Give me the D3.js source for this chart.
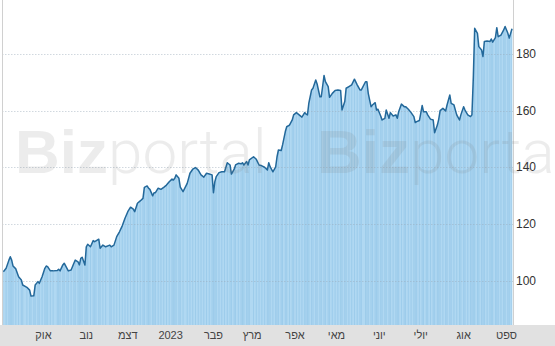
<!DOCTYPE html>
<html lang="he">
<head>
<meta charset="UTF-8">
<script src="https://d3js.org/d3.v7.min.js"></script>
<style>
  body { margin: 0; background: #fff; }
  svg { display: block; }
</style>
</head>
<body>
<div id="chart"></div>
<script>
// daily closes, Sep 2022 - Sep 2023
const dates = [
  "2022-09-02","2022-09-04","2022-09-06","2022-09-07","2022-09-08","2022-09-09","2022-09-11","2022-09-13","2022-09-15","2022-09-16",
  "2022-09-19","2022-09-21","2022-09-22","2022-09-24","2022-09-25","2022-09-27","2022-09-28","2022-09-30","2022-10-02","2022-10-03",
  "2022-10-04","2022-10-06","2022-10-08","2022-10-11","2022-10-12","2022-10-13","2022-10-15","2022-10-16","2022-10-18","2022-10-19",
  "2022-10-21","2022-10-23","2022-10-24","2022-10-26","2022-10-27","2022-10-28","2022-10-29","2022-10-31","2022-11-01","2022-11-02",
  "2022-11-04","2022-11-06","2022-11-07","2022-11-08","2022-11-10","2022-11-11","2022-11-13","2022-11-15","2022-11-18","2022-11-19",
  "2022-11-21","2022-11-23","2022-11-25","2022-11-27","2022-11-29","2022-12-01","2022-12-03","2022-12-05","2022-12-06","2022-12-08",
  "2022-12-10","2022-12-12","2022-12-13","2022-12-15","2022-12-16","2022-12-17","2022-12-19","2022-12-20","2022-12-21","2022-12-23",
  "2022-12-25","2022-12-27","2022-12-29","2022-12-31","2023-01-02","2023-01-03","2023-01-04","2023-01-05","2023-01-07","2023-01-08",
  "2023-01-10","2023-01-13","2023-01-15","2023-01-17","2023-01-19","2023-01-21","2023-01-23","2023-01-25","2023-01-27","2023-01-29",
  "2023-01-31","2023-02-01","2023-02-02","2023-02-03","2023-02-05","2023-02-07","2023-02-09","2023-02-11","2023-02-13","2023-02-14",
  "2023-02-16","2023-02-17","2023-02-19","2023-02-21","2023-02-22","2023-02-23","2023-02-25","2023-02-26","2023-02-27","2023-03-02",
  "2023-03-04","2023-03-06","2023-03-08","2023-03-10","2023-03-12","2023-03-13","2023-03-14","2023-03-16","2023-03-18","2023-03-19",
  "2023-03-20","2023-03-22","2023-03-23","2023-03-25","2023-03-26","2023-03-28","2023-03-30","2023-03-31","2023-04-02","2023-04-04",
  "2023-04-06","2023-04-08","2023-04-09","2023-04-10","2023-04-11","2023-04-13","2023-04-14","2023-04-16","2023-04-17","2023-04-19",
  "2023-04-20","2023-04-22","2023-04-23","2023-04-25","2023-04-26","2023-04-28","2023-04-30","2023-05-02","2023-05-04","2023-05-05",
  "2023-05-07","2023-05-08","2023-05-10","2023-05-12","2023-05-14","2023-05-16","2023-05-18","2023-05-19","2023-05-22","2023-05-23",
  "2023-05-24","2023-05-26","2023-05-27","2023-05-29","2023-05-30","2023-05-31","2023-06-02","2023-06-03","2023-06-05","2023-06-06",
  "2023-06-08","2023-06-09","2023-06-11","2023-06-13","2023-06-14","2023-06-15","2023-06-17","2023-06-19","2023-06-20","2023-06-22",
  "2023-06-24","2023-06-26","2023-06-27","2023-06-28","2023-06-30","2023-07-02","2023-07-03","2023-07-05","2023-07-06","2023-07-08",
  "2023-07-10","2023-07-11","2023-07-13","2023-07-14","2023-07-15","2023-07-17","2023-07-19","2023-07-20","2023-07-22","2023-07-23",
  "2023-07-25","2023-07-27","2023-07-29","2023-07-30","2023-08-01","2023-08-02","2023-08-04","2023-08-06","2023-08-07","2023-08-08",
  "2023-08-09","2023-08-11","2023-08-12","2023-08-14","2023-08-15","2023-08-16","2023-08-18","2023-08-20","2023-08-21","2023-08-22",
  "2023-08-24","2023-08-25","2023-08-26","2023-08-28","2023-08-30","2023-08-31","2023-09-02","2023-09-03","2023-09-05"
];
const closes = [
  103.1,104.3,107.2,108.4,107.2,105.1,104.1,101.3,100.2,98.4,
  97.6,96.6,94.5,94.6,98.4,99.6,99.0,101.3,104.3,105.1,
  104.9,103.4,103.4,103.5,104.0,103.4,105.5,106.1,104.3,103.4,
  103.7,106.1,107.2,106.6,105.5,107.8,108.2,105.5,111.9,112.8,
  111.9,114.1,113.7,114.0,114.6,111.4,112.5,111.9,112.5,111.9,
  112.5,115.5,117.2,119.3,122.0,124.3,125.9,125.2,124.3,127.3,
  128.1,129.0,132.9,133.4,132.6,132.2,129.9,131.0,131.0,132.6,
  132.2,132.9,133.7,134.9,135.8,135.5,136.1,137.3,136.1,133.0,
  131.4,134.3,137.9,139.3,139.9,139.0,137.3,136.5,137.9,137.6,
  137.3,131.0,134.9,136.7,138.1,138.4,138.4,141.6,140.8,137.6,
  139.3,140.8,141.4,141.2,141.6,140.8,142.0,140.8,142.6,143.7,
  142.8,140.8,140.5,140.0,139.0,141.6,140.2,138.4,140.1,143.7,
  146.1,145.9,147.9,152.6,154.3,154.9,156.7,158.5,159.3,158.5,
  157.7,159.3,158.8,158.5,162.6,167.3,167.9,170.8,169.4,164.9,
  164.9,172.4,170.2,168.5,164.7,166.1,167.1,167.3,167.1,160.2,
  163.2,167.9,168.5,169.1,171.1,169.1,167.3,167.3,170.2,170.2,
  166.1,161.4,162.0,162.8,160.2,160.5,158.1,156.7,157.3,160.2,
  157.3,159.3,158.1,158.5,157.3,159.6,162.3,161.4,161.4,160.5,
  159.3,157.9,155.8,156.1,156.5,161.8,159.6,159.6,158.5,157.0,
  156.7,152.2,154.9,157.0,160.0,160.8,159.9,162.0,165.5,162.6,
  162.0,158.5,156.7,158.5,161.4,160.2,158.5,157.9,158.5,171.4,
  189.1,187.3,182.6,181.4,179.1,184.4,184.6,184.4,185.3,184.2,
  185.8,189.3,186.1,186.7,188.5,189.7,187.3,185.6,188.9
];
const yTicks = [100, 120, 140, 160, 180];
const monthTicks = ["2022-10-01","2022-11-01","2022-12-01","2023-01-01","2023-02-01","2023-03-01",
                    "2023-04-01","2023-05-01","2023-06-01","2023-07-01","2023-08-01","2023-09-01"];
const monthLabels = ["אוק","נוב","דצמ","2023","פבר","מרץ","אפר","מאי","יוני","יולי","אוג","ספט"];

const W = 555, H = 346;
const plot = {left: 2, right: 513, top: 0, bottom: 325};
const parse = d3.timeParse("%Y-%m-%d");
const data = dates.map((d, i) => ({date: parse(d), v: closes[i]}));

const svg = d3.select("#chart").append("svg").attr("width", W).attr("height", H);

const x = d3.scaleTime()
  .domain([parse("2022-09-01"), parse("2023-09-05")])
  .range([plot.left, plot.right - 1]);
const y = d3.scaleLinear().domain([100, 180]).range([280.5, 54]);

// bottom axis band
svg.append("rect")
  .attr("x", 0).attr("y", plot.bottom)
  .attr("width", W).attr("height", H - plot.bottom)
  .attr("fill", "#e1e1e1");

// area + daily stripes
svg.append("path").datum(data)
  .attr("fill", "#b0d8f2")
  .attr("d", d3.area().x(d => x(d.date)).y0(plot.bottom).y1(d => y(d.v)));

svg.append("g").selectAll("line").data(data).join("line")
  .attr("x1", d => x(d.date)).attr("x2", d => x(d.date))
  .attr("y1", d => y(d.v)).attr("y2", plot.bottom)
  .attr("stroke", "#8ec3e6").attr("stroke-width", 0.8).attr("opacity", 0.7);

// gridlines
svg.append("g").selectAll("line").data(yTicks).join("line")
  .attr("x1", plot.left).attr("x2", plot.right)
  .attr("y1", d => Math.round(y(d)) + 0.5).attr("y2", d => Math.round(y(d)) + 0.5)
  .attr("stroke", "#9aa9b8").attr("stroke-opacity", 0.45)
  .attr("stroke-dasharray", "1.5,1.5");

// price line
svg.append("path").datum(data)
  .attr("fill", "none")
  .attr("stroke", "#23689a")
  .attr("stroke-width", 1.5)
  .attr("stroke-linejoin", "round")
  .attr("d", d3.line().x(d => x(d.date)).y(d => y(d.v)));

// borders
svg.append("line").attr("x1", plot.left + 0.5).attr("x2", plot.left + 0.5)
  .attr("y1", 0).attr("y2", plot.bottom).attr("stroke", "#d0d0d0");
svg.append("line").attr("x1", plot.right + 0.5).attr("x2", plot.right + 0.5)
  .attr("y1", 0).attr("y2", plot.bottom).attr("stroke", "#d0d0d0");

// watermark
[15, 317].forEach(wx => {
  const t = svg.append("text")
    .attr("x", wx).attr("y", 173)
    .attr("font-size", 62)
    .attr("fill", "#7a7a7a").attr("fill-opacity", 0.14);
  t.append("tspan").attr("font-family", "Liberation Sans, Arial, sans-serif")
    .attr("font-weight", "bold").text("Biz");
  t.append("tspan").attr("font-family", "Roboto, Liberation Sans, sans-serif")
    .attr("font-weight", 300).text("portal");
});

// y axis labels (right)
svg.append("g").selectAll("text").data(yTicks).join("text")
  .attr("x", plot.right + 3).attr("y", d => y(d))
  .attr("dy", "0.35em")
  .attr("font-family", "Liberation Sans, Arial, sans-serif")
  .attr("font-size", 12).attr("fill", "#333")
  .text(d => d);

// month labels
svg.append("g").selectAll("text").data(monthTicks).join("text")
  .attr("x", d => x(parse(d))).attr("y", 335)
  .attr("dy", "0.35em")
  .attr("text-anchor", "middle")
  .attr("font-family", "Liberation Sans, Arial, sans-serif")
  .attr("font-size", 11).attr("fill", "#444")
  .text((d, i) => monthLabels[i]);
</script>
</body>
</html>
